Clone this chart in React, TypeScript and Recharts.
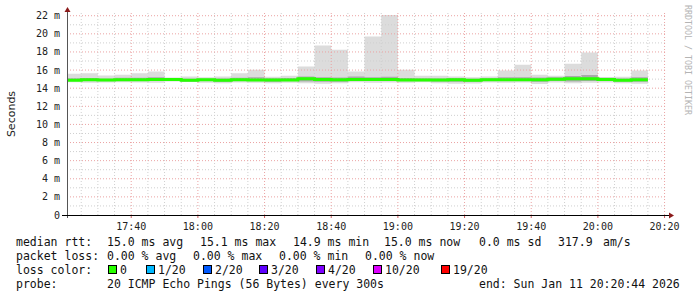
import React from 'react';
import { ComposedChart, Area, Line, XAxis, YAxis, ReferenceLine } from 'recharts';

// 5 minute bins, first one cut by the graph start
const binStarts = [
  '17:20:44', '17:25', '17:30', '17:35', '17:40', '17:45', '17:50', '17:55',
  '18:00', '18:05', '18:10', '18:15', '18:20', '18:25', '18:30', '18:35',
  '18:40', '18:45', '18:50', '18:55', '19:00', '19:05', '19:10', '19:15',
  '19:20', '19:25', '19:30', '19:35', '19:40', '19:45', '19:50', '19:55',
  '20:00', '20:05', '20:10',
];
const lastBinEnd = '20:15';
const graphStart = '17:20:44';
const graphEnd = '20:20:44';

// smoke (ms)
const smokeMin = [
  14.65, 14.6, 14.62, 14.65, 14.62, 14.6, 14.75, 14.68, 14.6, 14.55, 14.62, 14.6,
  14.55, 14.6, 14.55, 14.48, 14.55, 14.65, 14.6, 14.62, 14.6, 14.65, 14.55, 14.5,
  14.52, 14.62, 14.6, 14.62, 14.45, 14.62, 14.55, 14.6, 14.62, 14.55, 14.5,
];
const smokeMax = [
  15.59, 15.66, 15.4, 15.48, 15.66, 15.85, 15.18, 15.3, 15.22, 15.3, 15.66, 16.03,
  15.25, 15.36, 16.4, 18.7, 18.23, 15.84, 19.7, 22.08, 16.03, 15.36, 15.36, 15.3,
  15.2, 15.3, 15.96, 16.58, 15.48, 15.37, 16.7, 17.93, 15.2, 15.25, 15.96,
];
const coreLow = [
  14.78, 14.8, 14.78, 14.82, 14.8, 14.82, 14.82, 14.75, 14.78, 14.72, 14.8, 14.78,
  14.72, 14.8, 14.75, 14.7, 14.72, 14.82, 14.8, 14.82, 14.78, 14.8, 14.75, 14.72,
  14.7, 14.8, 14.8, 14.8, 14.72, 14.8, 14.75, 14.8, 14.82, 14.75, 14.72,
];
const coreHigh = [
  15.1, 15.12, 15.05, 15.15, 15.15, 15.22, 15.1, 15.05, 15.05, 15.08, 15.15, 15.2,
  15.1, 15.12, 15.28, 15.2, 15.18, 15.3, 15.2, 15.25, 15.12, 15.1, 15.08, 15.12,
  15.05, 15.1, 15.2, 15.22, 15.18, 15.22, 15.35, 15.45, 15.15, 15.08, 15.2,
];
const median = [
  14.88, 14.92, 14.9, 14.92, 14.92, 14.95, 14.95, 14.88, 14.92, 14.88, 14.92, 14.9,
  14.9, 14.9, 15.05, 14.95, 14.92, 14.95, 14.95, 14.95, 14.9, 14.9, 14.9, 14.92,
  14.88, 14.92, 14.92, 14.92, 14.92, 15.0, 15.05, 15.05, 14.95, 14.88, 14.92,
];

const xTickLabels = ['17:40', '18:00', '18:20', '18:40', '19:00', '19:20', '19:40', '20:00', '20:20'];
const yTicks = [0, 2, 4, 6, 8, 10, 12, 14, 16, 18, 20, 22];
const yMinor = [1, 3, 5, 7, 9, 11, 13, 15, 17, 19, 21];

const lossColors = [
  { label: '0', color: '#26ff00' },
  { label: '1/20', color: '#00b8ff' },
  { label: '2/20', color: '#0059ff' },
  { label: '3/20', color: '#5e00ff' },
  { label: '4/20', color: '#7e00ff' },
  { label: '10/20', color: '#dd00ff' },
  { label: '19/20', color: '#ff0000' },
];

const toMin = (t: string) => {
  const [h, m, s] = t.split(':').map(Number);
  return h * 60 + m + (s || 0) / 60;
};

const rows = binStarts.map((t, i) => ({
  t: toMin(t),
  smoke: [smokeMin[i], smokeMax[i]],
  core: [coreLow[i], coreHigh[i]],
  median: median[i],
}));
const last = rows[rows.length - 1];
const data = [...rows, { ...last, t: toMin(lastBinEnd) }];

const xTicks = xTickLabels.map(toMin);
const xMinor: number[] = [];
for (let m = toMin('17:25'); m <= toMin('20:20'); m += 5) {
  if (m % 20 !== 0) xMinor.push(m);
}

const pad = (n: number) => String(n).padStart(2, '0');
const fmtTime = (v: number) => `${pad(Math.floor(v / 60))}:${pad(Math.round(v % 60))}`;

const MONO = '"DejaVu Sans Mono", monospace';
const MINOR = '#cfcfcf';
const MAJOR = '#eba3a3';

const YTick = ({ y, payload }: any) => (
  <text x={60} y={y + 3.5} textAnchor="end" fontFamily={MONO} fontSize={10} fill="#222">
    {payload.value === 0 ? '0' : `${payload.value} m`}
  </text>
);

const XTick = ({ x, y, payload }: any) => (
  <text x={x} y={y + 10} textAnchor="middle" fontFamily={MONO} fontSize={10} fill="#222">
    {fmtTime(payload.value)}
  </text>
);

export default function App() {
  const boxX = [108, 146, 203, 259, 316, 373, 441];
  return (
    <div style={{ position: 'absolute', left: 0, top: 0, width: 697, height: 297, background: '#fff' }}>
      <ComposedChart width={697} height={240} data={data} margin={{ top: 13, right: 30, left: 0, bottom: 0 }}>
        <XAxis
          dataKey="t"
          type="number"
          domain={[toMin(graphStart), toMin(graphEnd)]}
          ticks={xTicks}
          interval={0}
          tick={<XTick />}
          height={25}
          axisLine={false}
          tickLine={{ stroke: '#d06060' }}
          tickSize={3}
          allowDataOverflow
        />
        <YAxis
          type="number"
          domain={[0, 22.3]}
          ticks={yTicks}
          interval={0}
          tick={<YTick />}
          width={67}
          axisLine={false}
          tickLine={false}
          allowDataOverflow
        />
        <Area
          type="stepAfter"
          dataKey="smoke"
          stroke="none"
          fill="#dcdcdc"
          fillOpacity={1}
          isAnimationActive={false}
        />
        <Area
          type="stepAfter"
          dataKey="core"
          stroke="none"
          fill="#a9a9a9"
          fillOpacity={1}
          isAnimationActive={false}
        />
        {yMinor.map((v) => (
          <ReferenceLine key={`ym${v}`} y={v} stroke={MINOR} strokeDasharray="1 2" />
        ))}
        {xMinor.map((v) => (
          <ReferenceLine key={`xm${v}`} x={v} stroke={MINOR} strokeDasharray="1 2" />
        ))}
        {yTicks.slice(1).map((v) => (
          <ReferenceLine key={`yM${v}`} y={v} stroke={MAJOR} strokeDasharray="1 2" />
        ))}
        {xTicks.map((v) => (
          <ReferenceLine key={`xM${v}`} x={v} stroke={MAJOR} strokeDasharray="1 2" />
        ))}
        <Line
          type="stepAfter"
          dataKey="median"
          stroke="#26ff00"
          strokeWidth={3}
          dot={false}
          activeDot={false}
          isAnimationActive={false}
        />
      </ComposedChart>

      <svg width={697} height={297} style={{ position: 'absolute', left: 0, top: 0, pointerEvents: 'none' }}>
        {/* axes */}
        <line x1={67.5} y1={218} x2={67.5} y2={10} stroke="#555" strokeWidth={1} />
        <polygon points="64.5,12 70.5,12 67.5,7" fill="#8b1a1a" />
        <line x1={62} y1={215.5} x2={670} y2={215.5} stroke="#000" strokeWidth={1} />
        <polygon points="669,212.5 669,218.5 674,215.5" fill="#8b1a1a" />

        <text
          transform="translate(14.5,114) rotate(-90)"
          textAnchor="middle"
          fontFamily='"DejaVu Sans", sans-serif'
          fontSize={11}
          fill="#222"
        >
          Seconds
        </text>
        <text
          transform="translate(684.5,5) rotate(90)"
          fontFamily={MONO}
          fontSize={8.3}
          fill="#b4b4b4"
        >
          RRDTOOL / TOBI OETIKER
        </text>

        <g fontFamily={MONO} fontSize={11.5} fill="#111">
          <text x={16} y={246}>median rtt:</text>
          <text x={107} y={246}>15.0 ms avg</text>
          <text x={200} y={246}>15.1 ms max</text>
          <text x={293} y={246}>14.9 ms min</text>
          <text x={384} y={246}>15.0 ms now</text>
          <text x={479} y={246}>0.0 ms sd</text>
          <text x={558} y={246}>317.9</text>
          <text x={603} y={246}>am/s</text>

          <text x={16} y={260}>packet loss:</text>
          <text x={107} y={260}>0.00 % avg</text>
          <text x={193} y={260}>0.00 % max</text>
          <text x={279} y={260}>0.00 % min</text>
          <text x={365} y={260}>0.00 % now</text>

          <text x={16} y={273.5}>loss color:</text>
          {lossColors.map((c, i) => (
            <g key={c.label}>
              <rect x={boxX[i] + 0.5} y={265.5} width={8} height={8} fill={c.color} stroke="#000" strokeWidth={1} />
              <text x={boxX[i] + 12} y={273.5}>{c.label}</text>
            </g>
          ))}

          <text x={16} y={287.5}>probe:</text>
          <text x={107} y={287.5}>20 ICMP Echo Pings (56 Bytes) every 300s</text>
          <text x={479} y={287.5}>end: Sun Jan 11 20:20:44 2026</text>
        </g>
      </svg>
    </div>
  );
}
